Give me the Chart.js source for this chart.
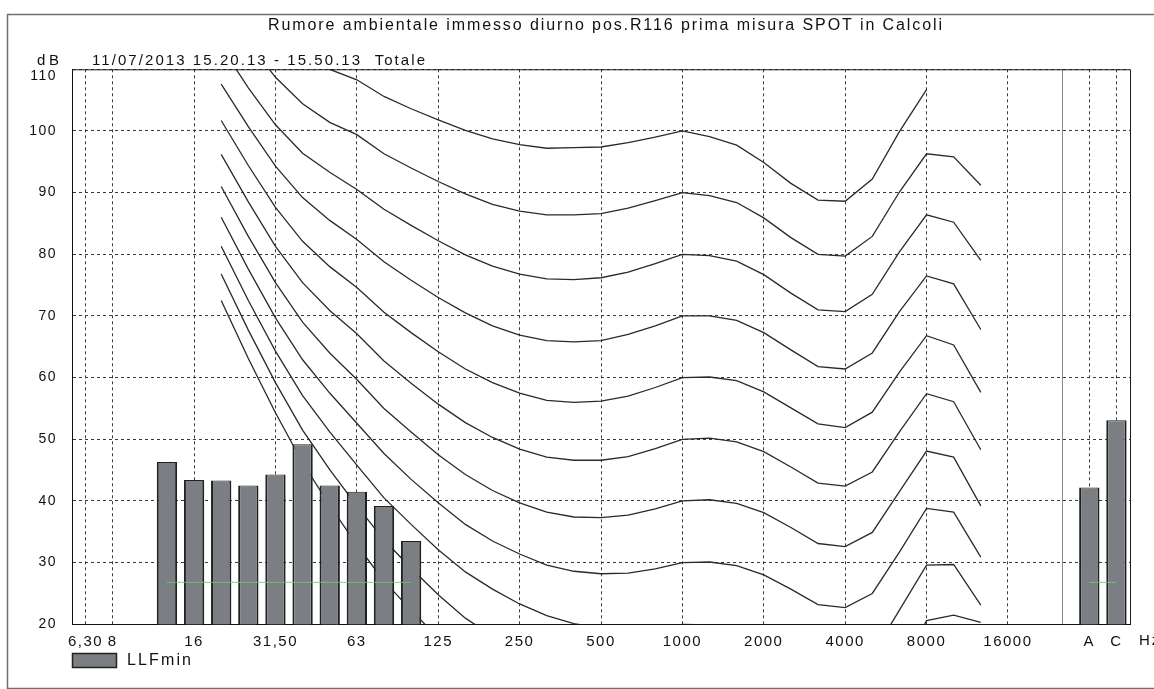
<!DOCTYPE html>
<html>
<head>
<meta charset="utf-8">
<title>LLFmin</title>
<script src="https://cdn.jsdelivr.net/npm/chart.js@4.4.1/dist/chart.umd.min.js"></script>
<style>
  body { margin: 0; background: #fff; }
  #box { width: 1154px; height: 689px; }
</style>
</head>
<body>
<div id="box"><canvas id="grafico" width="1154" height="689"></canvas></div>
<script>
// bande di terzo d'ottava + separatore + A e C
let bande = ['6,3','8','10','12,5','16','20','25','31,5','40','50','63','80','100','125','160','200','250','315','400','500','630','800','1000','1250','1600','2000','2500','3150','4000','5000','6300','8000','10000','12500','16000','20000','','A','C']

let etichetteAsse = ['6,30','8','','','16','','','31,50','','','63','','','125','','','250','','','500','','','1000','','','2000','','','4000','','','8000','','','16000','','','A','C']

let tickDb = [20, 30, 40, 50, 60, 70, 80, 90, 100, 110]

let llfMin = [null,null,null,46.3,43.4,43.3,42.5,44.3,49.2,42.5,41.5,39.2,33.5,
  null,null,null,null,null,null,null,null,null,null,null,null,null,null,null,null,null,null,null,null,null,null,null,null,
  42.2,53.1]

let lineaVerde = [null,null,null,26.8,26.8,26.8,26.8,26.8,26.8,26.8,26.8,26.8,26.8,
  null,null,null,null,null,null,null,null,null,null,null,null,null,null,null,null,null,null,null,null,null,null,null,null,
  26.8,26.8]

// curve isofoniche, da 20 Hz a 12500 Hz
let primaBandaCurve = 5
let phon0 = [72.5,63.1,54.3,46.2,39.3,32.9,27.0,22.3,17.8,13.8,10.8,8.1,5.7,3.9,2.5,1.3,0.5,0.0,-0.7,-1.9,-3.5,-5.7,-8.1,-8.3,-5.4,2.5,11.6,13.1,8.0]
let phon10 = [76.8,67.7,59.2,51.5,45.1,39.2,33.7,29.1,24.8,21.0,18.1,15.6,13.4,11.9,10.9,10.1,9.9,10.0,9.7,8.7,7.2,5.0,2.6,2.2,4.8,12.2,20.6,21.5,20.3]
let phon20 = [81.3,72.5,64.3,57.1,51.2,45.8,40.5,36.2,32.1,28.5,25.7,23.3,21.4,20.1,19.4,19.1,19.4,20.0,19.9,19.2,17.7,15.4,13.0,12.5,15.0,22.3,29.6,29.7,23.1]
let phon30 = [86.0,77.6,69.7,62.9,57.5,52.6,47.7,43.5,39.7,36.2,33.5,31.4,29.6,28.6,28.2,28.3,29.0,30.0,30.1,29.5,28.0,25.7,23.2,22.7,25.0,31.7,38.8,38.2,30.9]
let phon40 = [91.0,82.9,75.4,69.0,64.0,59.7,55.0,51.2,47.5,44.3,41.7,39.7,38.2,37.4,37.3,37.7,38.7,40.0,40.2,39.6,38.1,35.7,33.1,32.6,34.9,41.5,48.1,47.1,39.2]
let phon50 = [96.2,88.5,81.3,75.4,70.9,67.1,62.7,59.1,55.7,52.7,50.3,48.4,47.1,46.6,46.6,47.2,48.5,50.0,50.2,49.6,48.0,45.5,42.9,42.4,44.7,51.2,57.4,56.1,48.3]
let phon60 = [101.7,94.4,87.6,82.1,78.0,74.6,70.6,67.3,64.2,61.4,59.2,57.5,56.3,56.0,56.2,57.0,58.4,60.0,60.1,59.5,57.7,55.1,52.5,51.9,54.4,60.9,66.8,65.3,57.6]
let phon70 = [107.6,100.7,94.3,89.2,85.5,82.4,78.8,75.8,73.0,70.5,68.4,66.9,66.0,65.8,66.0,67.0,68.4,70.0,70.0,69.3,67.3,64.5,61.8,61.4,64.0,70.7,76.5,75.2,67.8]
let phon80 = [113.7,107.0,101.0,96.4,93.3,90.5,87.3,84.7,82.2,79.9,78.1,76.8,76.0,75.9,76.2,77.1,78.5,80.0,79.8,78.9,76.7,73.7,71.0,70.7,73.5,80.4,86.4,85.2,79.0]
let phon90 = [120.3,114.4,108.7,104.4,101.4,99.4,96.3,94.0,91.8,89.8,88.1,87.0,86.4,86.4,86.6,87.5,88.7,90.0,89.5,88.4,85.9,82.7,80.0,79.7,82.9,90.1,96.3,95.8,91.2]
let phon100 = [127.2,121.9,116.6,112.6,110.0,108.3,105.6,103.6,101.8,100.1,98.7,97.8,97.2,97.3,97.4,98.1,99.0,100.0,99.1,97.7,94.9,91.5,88.8,88.6,92.2,99.9,106.7,null,null]

let curve = [phon0, phon10, phon20, phon30, phon40, phon50, phon60, phon70, phon80, phon90, phon100]

let titolo = 'Rumore ambientale immesso diurno pos.R116 prima misura SPOT in Calcoli'
let sottotitolo = '11/07/2013 15.20.13 - 15.50.13  Totale'

const FONT = "'Liberation Sans', Arial, sans-serif"
const GRIGIO_BARRE = '#7b7f84'

Chart.defaults.font.family = FONT
Chart.defaults.color = '#111'

function allinea(valori) {
    // mette la curva sulle posizioni giuste delle bande
    let out = []
    for (let i = 0; i < bande.length; i++) {
        let j = i - primaBandaCurve
        out.push(j >= 0 && j < valori.length ? valori[j] : null)
    }
    return out
}

function scriviLargo(ctx, testo, x0, x1, y, size) {
    ctx.font = size + 'px ' + FONT
    ctx.letterSpacing = '0px'
    let w = ctx.measureText(testo).width
    let sp = (x1 - x0 - w) / (testo.length - 1)
    ctx.letterSpacing = sp + 'px'
    ctx.textAlign = 'left'
    ctx.textBaseline = 'middle'
    ctx.fillText(testo, x0, y)
}

let decorazioni = {
    id: 'decorazioni',
    beforeDraw(chart) {
        let ctx = chart.ctx
        ctx.save()
        ctx.fillStyle = '#fff'
        ctx.fillRect(0, 0, chart.width, chart.height)
        ctx.restore()
        ctx.letterSpacing = '1.5px'
    },
    afterDraw(chart) {
        let ctx = chart.ctx
        let a = chart.chartArea
        ctx.save()
        // cornice del grafico
        ctx.strokeStyle = '#1a1a1a'
        ctx.lineWidth = 1
        ctx.beginPath()
        ctx.moveTo(a.left, a.top + 0.5)
        ctx.lineTo(a.right + 0.5, a.top + 0.5)
        ctx.lineTo(a.right + 0.5, a.bottom)
        ctx.stroke()
        // cornice esterna
        ctx.strokeStyle = '#707070'
        ctx.lineWidth = 1.5
        ctx.strokeRect(7.5, 14.5, 1160, 674)

        ctx.fillStyle = '#111'
        scriviLargo(ctx, titolo, 268, 942, 26, 16)
        scriviLargo(ctx, sottotitolo, 92, 425, 61, 15)
        scriviLargo(ctx, 'dB', 37, 59, 61, 15)

        // etichetta 110: nel riferimento sta sotto la riga superiore
        ctx.font = '14px ' + FONT
        ctx.letterSpacing = '1.5px'
        ctx.textAlign = 'right'
        ctx.textBaseline = 'middle'
        ctx.fillText('110', 57, 76)

        ctx.font = '15px ' + FONT
        ctx.letterSpacing = '2px'
        ctx.textAlign = 'left'
        ctx.fillText('Hz', 1139, 641)

        // legenda
        let ds = chart.data.datasets[0]
        ctx.fillStyle = GRIGIO_BARRE
        ctx.fillRect(72, 653, 45, 15)
        ctx.strokeStyle = '#222'
        ctx.lineWidth = 1.5
        ctx.strokeRect(72.5, 653.5, 44, 14)
        ctx.fillStyle = '#111'
        scriviLargo(ctx, ds.label, 127, 191, 661, 16)
        ctx.restore()
    }
}

let datasets = [{
    type: 'bar',
    label: 'LLFmin',
    data: llfMin,
    backgroundColor: GRIGIO_BARRE,
    borderColor: '#202020',
    borderWidth: { left: 2, right: 2, top: 1, bottom: 0 },
    borderSkipped: false,
    barPercentage: 0.75,
    categoryPercentage: 1,
    order: 1
}, {
    type: 'line',
    label: 'soglia',
    data: lineaVerde,
    borderColor: 'rgba(110,200,110,0.85)',
    borderWidth: 1,
    pointRadius: 0,
    spanGaps: false,
    order: 0
}]

for (let k = 0; k < curve.length; k++) {
    datasets.push({
        type: 'line',
        label: (k * 10) + ' phon',
        data: allinea(curve[k]),
        borderColor: '#2a2a2a',
        borderWidth: 1.3,
        pointRadius: 0,
        tension: 0,
        spanGaps: false,
        order: 2
    })
}

let ctx = document.getElementById('grafico').getContext('2d')
let grafico = new Chart(ctx, {
    type: 'bar',
    data: { labels: bande, datasets: datasets },
    plugins: [decorazioni],
    options: {
        responsive: false,
        animation: false,
        layout: { padding: { left: 0, right: 24, top: 69.3, bottom: 0 } },
        plugins: {
            legend: { display: false },
            tooltip: { enabled: false }
        },
        scales: {
            x: {
                offset: true,
                afterFit: function(s) { s.height = 64.7 },
                ticks: {
                    autoSkip: false,
                    maxRotation: 0,
                    padding: 9,
                    font: { size: 15 },
                    callback: function(v, i) { return etichetteAsse[i] }
                },
                grid: {
                    offset: false,
                    drawTicks: false,
                    lineWidth: 1,
                    color: function(c) {
                        if (c.index === 36) return '#8a8a8a'
                        return etichetteAsse[c.index] ? '#3a3a3a' : 'rgba(0,0,0,0)'
                    }
                },
                border: {
                    display: true,
                    color: '#111',
                    width: 1,
                    dash: function(c) { return c.index === 36 ? [] : [3, 3] }
                }
            },
            y: {
                min: 20,
                max: 110,
                afterFit: function(s) { s.width = 72 },
                afterBuildTicks: function(s) { s.ticks = tickDb.map(function(v) { return { value: v } }) },
                ticks: {
                    padding: 15,
                    font: { size: 14 },
                    callback: function(v) { return v === 110 ? '' : v }
                },
                grid: { drawTicks: false, color: '#3a3a3a', lineWidth: 1 },
                border: { display: true, color: '#111', width: 1, dash: [3, 3] }
            }
        }
    }
})
</script>
</body>
</html>
